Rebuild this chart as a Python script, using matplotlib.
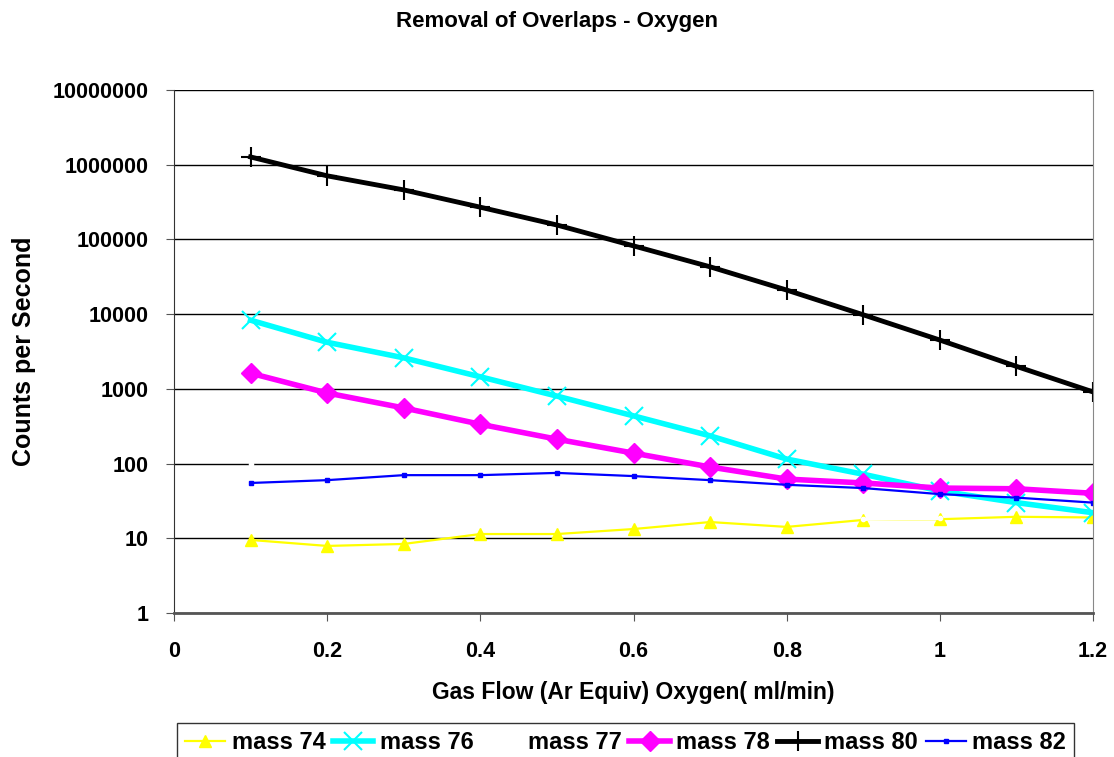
import numpy as np
import matplotlib
matplotlib.use("Agg")
import matplotlib.pyplot as plt

plt.rcParams['font.family'] = ['Liberation Sans', 'DejaVu Sans']
plt.rcParams['font.weight'] = 'bold'

# gas flow (ml/min)
flow = [0.1, 0.2, 0.3, 0.4, 0.5, 0.6, 0.7, 0.8, 0.9, 1.0, 1.1, 1.2]

# counts per second for each mass
mass74 = [9.5, 7.9, 8.4, 11.4, 11.4, 13.3, 16.5, 14.2, 17.6, 18, 19.4, 19]
mass76 = [8300, 4200, 2600, 1450, 800, 435, 235, 115, 72, 43, 30, 22]
mass77 = [100, np.nan, np.nan, np.nan, np.nan, np.nan, np.nan, np.nan, 18, 18.5, np.nan, np.nan]
mass78 = [1620, 880, 555, 336, 212, 138, 90, 62, 55, 47, 46, 40]
mass80 = [1270000, 710000, 460000, 270000, 156000, 82000, 43000, 21000, 9800, 4500, 2000, 910]
mass82 = [55, 60, 70, 70, 75, 68, 60, 52, 47, 39, 35, 30]

y_ticks = [1, 10, 100, 1000, 10000, 100000, 1000000, 10000000]
x_ticks = [0, 0.2, 0.4, 0.6, 0.8, 1.0, 1.2]
x_labels = ['0', '0.2', '0.4', '0.6', '0.8', '1', '1.2']

fig = plt.figure(figsize=(11.14, 7.57), dpi=100)
ax = fig.add_axes([174 / 1114, 1 - 613 / 757, (1093 - 174) / 1114, (613 - 90) / 757])

ax.plot(flow, mass74, color='#FFFF00', lw=1.6, marker='^', ms=8, label='mass 74')
ax.plot(flow, mass76, color='#00FFFF', lw=4, marker='x', ms=13, mew=1.5, label='mass 76')
ax.plot(flow, mass77, color='white', lw=2.5, marker='o', ms=3, label='mass 77')
ax.plot(flow, mass78, color='#FF00FF', lw=4, marker='D', ms=10, label='mass 78')
ax.plot(flow, mass80, color='black', lw=3.5, marker='+', ms=14, mew=1.5, label='mass 80')
ax.plot(flow, mass82, color='#0000FF', lw=1.6, marker='s', ms=3, label='mass 82')

ax.set_yscale('log')
ax.set_ylim(1, 1e7)
ax.set_xlim(0, 1.2)
ax.set_yticks(y_ticks)
ax.set_yticklabels([str(v) for v in y_ticks])
ax.yaxis.set_minor_locator(matplotlib.ticker.NullLocator())
ax.set_xticks(x_ticks)
ax.set_xticklabels(x_labels)
ax.grid(axis='y', color='black', lw=1)
ax.set_axisbelow(True)

ax.tick_params(axis='both', labelsize=15.5, direction='out', length=6, color='#555555')
ax.tick_params(axis='y', pad=12)
ax.tick_params(axis='x', pad=14)
for lbl in ax.get_xticklabels() + ax.get_yticklabels():
    lbl.set_fontweight('bold')

ax.spines['top'].set_visible(False)
ax.spines['right'].set_color('#888888')
ax.spines['left'].set_color('#333333')
ax.spines['bottom'].set_color('#555555')
ax.spines['bottom'].set_linewidth(2)

ax.set_xlabel('Gas Flow (Ar Equiv) Oxygen( ml/min)', fontsize=16.5, fontweight='bold', labelpad=14)
ax.set_ylabel('Counts per Second', fontsize=18, fontweight='bold', labelpad=12)
fig.text(0.5, 1 - 21 / 757, 'Removal of Overlaps - Oxygen', ha='center', va='center',
         fontsize=16, fontweight='bold')

leg = fig.legend(loc='upper left', bbox_to_anchor=(177 / 1114, 1 - 723 / 757), ncol=6,
                 fontsize=17, frameon=True, fancybox=False, edgecolor='black',
                 numpoints=1, handlelength=1.7, handletextpad=0.28, columnspacing=0.32,
                 borderpad=0.35, borderaxespad=0)
leg.get_frame().set_linewidth(1)
for t in leg.get_texts():
    t.set_fontweight('bold')

fig.savefig('out.png', dpi=100)
